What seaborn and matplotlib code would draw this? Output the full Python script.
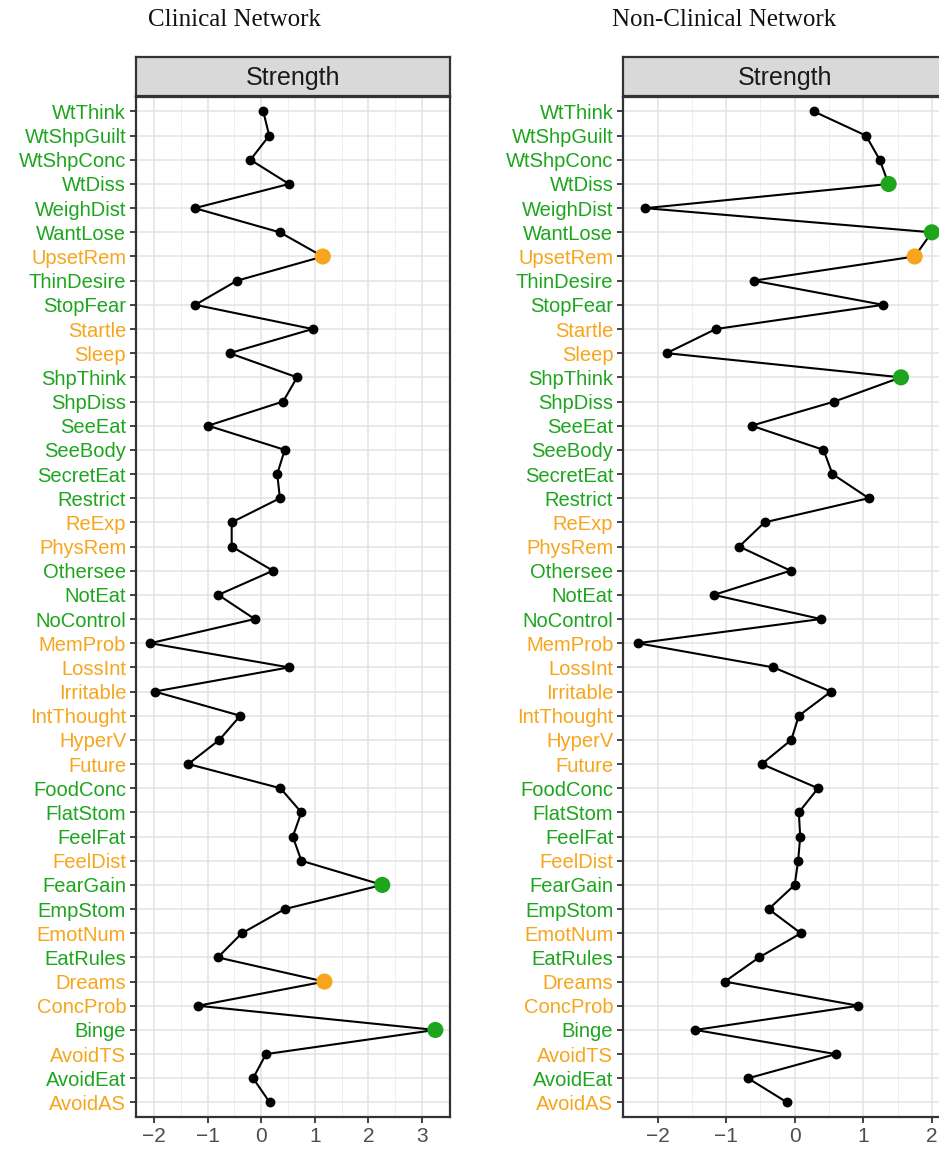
import numpy as np
import pandas as pd
import matplotlib
matplotlib.use("Agg")
import matplotlib.pyplot as plt
from matplotlib.ticker import MultipleLocator
import seaborn as sns

# node order from top to bottom
nodes = ["WtThink", "WtShpGuilt", "WtShpConc", "WtDiss", "WeighDist", "WantLose",
         "UpsetRem", "ThinDesire", "StopFear", "Startle", "Sleep", "ShpThink",
         "ShpDiss", "SeeEat", "SeeBody", "SecretEat", "Restrict", "ReExp",
         "PhysRem", "Othersee", "NotEat", "NoControl", "MemProb", "LossInt",
         "Irritable", "IntThought", "HyperV", "Future", "FoodConc", "FlatStom",
         "FeelFat", "FeelDist", "FearGain", "EmpStom", "EmotNum", "EatRules",
         "Dreams", "ConcProb", "Binge", "AvoidTS", "AvoidEat", "AvoidAS"]

# PTSD symptoms (orange labels); the rest are eating disorder symptoms (green)
ptsd_nodes = ["UpsetRem", "Startle", "Sleep", "ReExp", "PhysRem", "MemProb",
              "LossInt", "Irritable", "IntThought", "HyperV", "Future",
              "FeelDist", "EmotNum", "Dreams", "ConcProb", "AvoidTS", "AvoidAS"]

clinical = [0.04, 0.15, -0.20, 0.52, -1.24, 0.35,
            1.15, -0.45, -1.23, 0.96, -0.59, 0.67,
            0.41, -0.99, 0.44, 0.30, 0.35, -0.55,
            -0.55, 0.22, -0.80, -0.12, -2.07, 0.52,
            -1.99, -0.39, -0.78, -1.36, 0.36, 0.75,
            0.59, 0.75, 2.26, 0.44, -0.36, -0.81,
            1.18, -1.18, 3.25, 0.09, -0.15, 0.16]

nonclinical = [0.28, 1.04, 1.24, 1.37, -2.18, 2.00,
               1.75, -0.60, 1.29, -1.15, -1.87, 1.55,
               0.58, -0.63, 0.42, 0.55, 1.08, -0.44,
               -0.81, -0.06, -1.18, 0.38, -2.29, -0.31,
               0.53, 0.06, -0.05, -0.48, 0.34, 0.06,
               0.08, 0.05, 0.00, -0.38, 0.09, -0.52,
               -1.02, 0.93, -1.45, 0.60, -0.68, -0.11]

GREEN = "#1ea51e"
ORANGE = "#f7a51c"
DARK = "#333333"

sns.set_theme(style="white")
plt.rcParams["font.family"] = ["Liberation Sans", "DejaVu Sans"]

fig = plt.figure(figsize=(9.39, 11.49), dpi=100)


def draw_panel(values, rect, strip_rect, title, title_x):
    df = pd.DataFrame({"node": nodes, "strength": values,
                       "pos": np.arange(len(nodes))})
    df["group"] = np.where(df["node"].isin(ptsd_nodes), "ptsd", "ed")
    top = df.nlargest(4, "strength")

    ax = fig.add_axes(rect)
    ax.set_facecolor("white")
    sns.lineplot(data=df, x="strength", y="pos", sort=False, estimator=None,
                 color="black", linewidth=1.5, ax=ax)
    sns.scatterplot(data=df, x="strength", y="pos", color="black", s=50,
                    linewidth=0, ax=ax, zorder=3)
    sns.scatterplot(data=top, x="strength", y="pos", hue="group",
                    palette={"ed": GREEN, "ptsd": ORANGE}, s=135,
                    linewidth=0, legend=False, ax=ax, zorder=4)

    lo, hi = df["strength"].min(), df["strength"].max()
    pad = 0.05 * (hi - lo)
    ax.set_xlim(lo - pad, hi + pad)
    ax.set_ylim(len(nodes) - 1 + 0.6, -0.6)
    ax.set_yticks(df["pos"], df["node"])
    ax.xaxis.set_major_locator(MultipleLocator(1))
    ax.xaxis.set_minor_locator(MultipleLocator(0.5))

    ax.grid(which="major", color="#e3e3e3", linewidth=1.1)
    ax.grid(which="minor", axis="x", color="#efefef", linewidth=0.7)
    ax.set_axisbelow(True)
    ax.set_xlabel("")
    ax.set_ylabel("")

    ax.tick_params(axis="both", which="major", length=4, width=1.3,
                   color=DARK, left=True, bottom=True, pad=3)
    ax.tick_params(axis="both", which="minor", length=0)
    ax.tick_params(axis="y", labelsize=14.5)
    ax.tick_params(axis="x", labelsize=15, labelcolor="#4d4d4d")
    for lab, grp in zip(ax.get_yticklabels(), df["group"]):
        lab.set_color(ORANGE if grp == "ptsd" else GREEN)
    for sp in ax.spines.values():
        sp.set_color(DARK)
        sp.set_linewidth(1.6)

    # facet strip
    sax = fig.add_axes(strip_rect)
    sax.set_facecolor("#d9d9d9")
    sax.set_xticks([])
    sax.set_yticks([])
    for sp in sax.spines.values():
        sp.set_color(DARK)
        sp.set_linewidth(1.6)
    sax.text(0.5, 0.47, "Strength", ha="center", va="center", fontsize=18,
             color="#1a1a1a", transform=sax.transAxes)

    fig.text(title_x, 0.983, title, ha="center", va="center", fontsize=18,
             family=["Liberation Serif", "DejaVu Serif"], color="#111111")


draw_panel(clinical, [0.1448, 0.0279, 0.334, 0.8877],
           [0.1448, 0.9164, 0.334, 0.0339], "Clinical Network", 0.250)
# right panel runs past the figure edge, as in the original
draw_panel(nonclinical, [0.6635, 0.0279, 0.3445, 0.8877],
           [0.6635, 0.9164, 0.3445, 0.0339], "Non-Clinical Network", 0.771)

fig.savefig("out.png", dpi=100)
